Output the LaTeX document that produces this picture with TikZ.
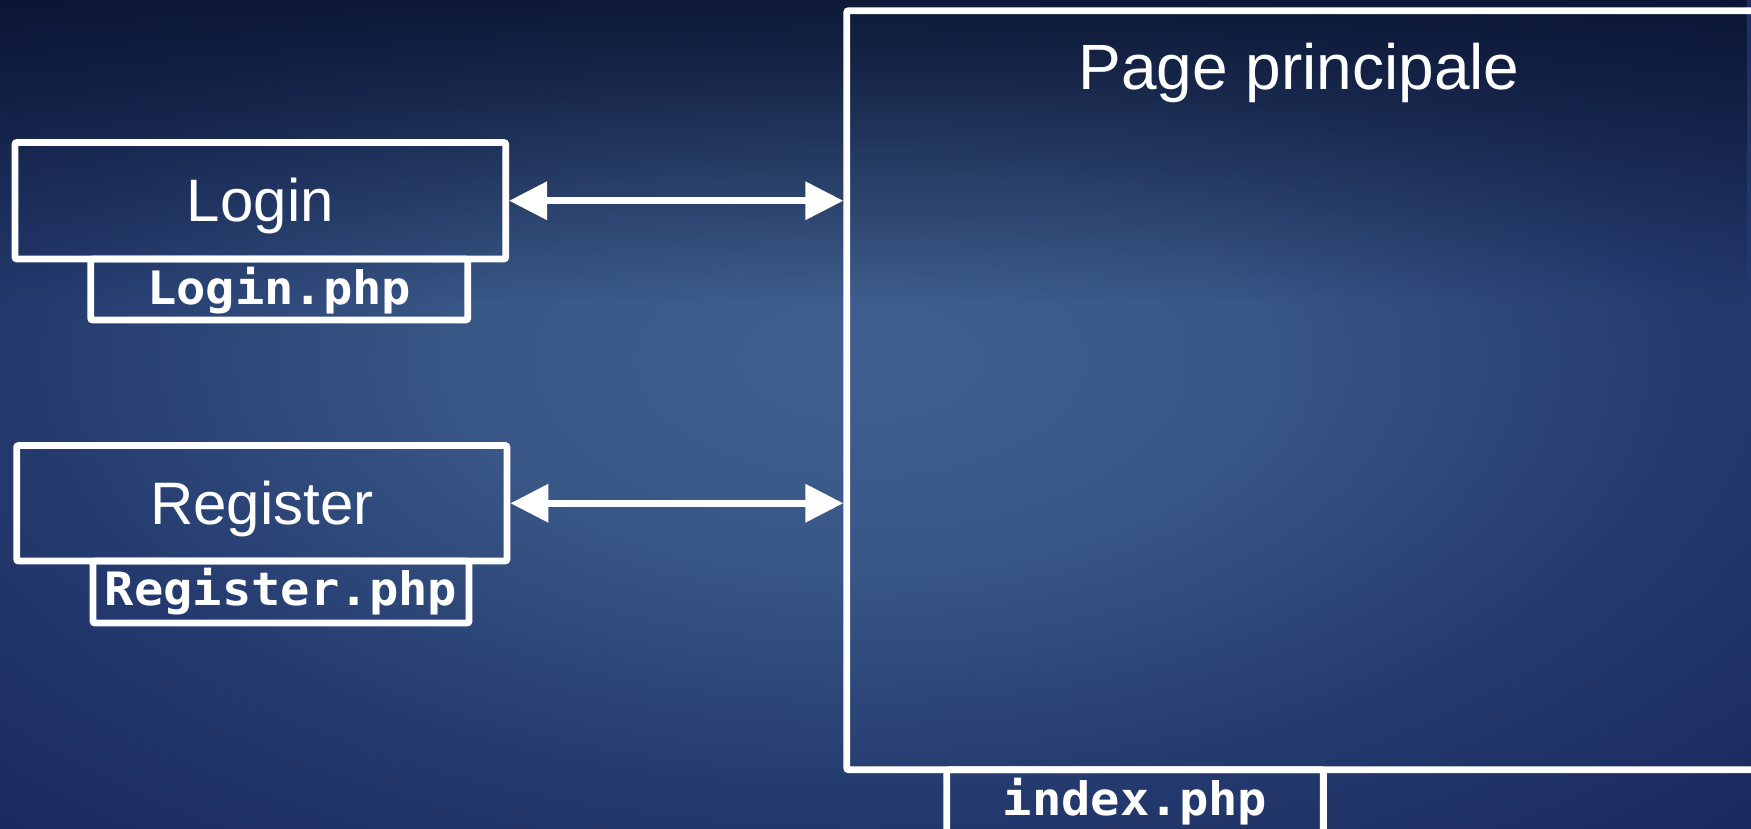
\documentclass[tikz,border=0pt]{standalone}
\usepackage{fontspec}
\setmainfont{Liberation Sans}
\newfontfamily\codefont[FakeStretch=1.06]{DejaVu Sans Mono}
\usetikzlibrary{arrows.meta,fadings}

% background palette
\definecolor{bgA}{RGB}{64,95,142}
\definecolor{bgB}{RGB}{56,86,134}
\definecolor{bgC}{RGB}{36,58,110}
\definecolor{bgD}{RGB}{26,42,94}
\definecolor{bgE}{RGB}{21,35,84}
\definecolor{bgTop}{RGB}{9,18,44}

\pgfdeclareradialshading{bgglow}{\pgfpoint{0bp}{0bp}}{%
  color(0bp)=(bgA); color(10bp)=(bgB); color(21bp)=(bgC);
  color(31bp)=(bgD); color(50bp)=(bgE)}
\tikzfading[name=topfade, top color=transparent!0, bottom color=transparent!100]

\tikzset{
  frame/.style={draw=white, line width=6.8pt, rounded corners=2pt, inner sep=0pt},
  bigtext/.style={text=white, inner sep=0pt, font=\fontsize{60}{72}\selectfont},
  titletext/.style={text=white, inner sep=0pt, font=\fontsize{64}{76}\selectfont},
  filetext/.style={text=white, inner sep=0pt, font=\codefont\bfseries\fontsize{46}{55}\selectfont},
  link/.style={draw=white, line width=6.8pt,
    arrows={Triangle[length=38pt,width=37pt]-Triangle[length=38pt,width=37pt]}}
}

\begin{document}
\begin{tikzpicture}[x=1pt,y=-1pt]
\useasboundingbox (0,0) rectangle (1751,829);
\clip (0,0) rectangle (1751,829);

% backdrop: soft glow near the middle, darker band along the top
\shade[shading=bgglow] (-140,-160) rectangle (1860,880);
\fill[bgTop, fill opacity=0.85, path fading=topfade] (0,0) rectangle (1751,300);

% main page frame, running off the right edge
\node[frame, minimum width=953.3pt, minimum height=759pt] (main) at (1323.35,390.2) {};
\node[titletext, anchor=base] (maintitle) at (1299,90) {Page principale};
\node[frame, minimum width=376.7pt, minimum height=100pt] (indexfile) at (1135,819.7) {};
\node[filetext, anchor=base] (indextxt) at (1135,815) {index.php};

% login page
\node[frame, minimum width=490.7pt, minimum height=116.5pt] (login) at (260.35,200.75) {};
\node[bigtext, anchor=base] (logintxt) at (260.35,222) {Login};
\node[frame, minimum width=377pt, minimum height=61pt] (loginfile) at (279.2,289.5) {};
\node[filetext, anchor=base] (loginfiletxt) at (279.2,304) {Login.php};

% register page
\node[frame, minimum width=490.3pt, minimum height=115.5pt] (register) at (261.85,503.25) {};
\node[bigtext, anchor=base] (registertxt) at (261.85,524.5) {Register};
\node[frame, minimum width=376pt, minimum height=62pt] (registerfile) at (281,592) {};
\node[filetext, anchor=base] (registerfiletxt) at (281,605) {Register.php};

% navigation between pages
\draw[link] (login.east) -- (login.east -| main.west);
\draw[link] (register.east) -- (register.east -| main.west);
\end{tikzpicture}
\end{document}
